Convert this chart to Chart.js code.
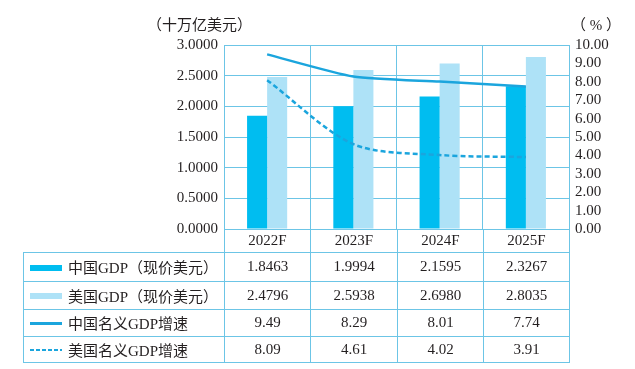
<!DOCTYPE html>
<html>
<head>
<meta charset="utf-8">
<script src="https://cdn.jsdelivr.net/npm/chart.js@4/dist/chart.umd.min.js"></script>
<style>
  body { margin: 0; background: #fff; }
  #wrap { position: relative; width: 635px; height: 369px; font-family: "Liberation Serif", "Noto Sans CJK SC", serif; color: #231f20; }
  #gdpChart { position: absolute; left: 0; top: 0; }
  .unit { position: absolute; font-size: 15px; top: 13px; }
  #dataTable { position: absolute; left: 23px; top: 229px; border-collapse: collapse; table-layout: fixed; width: 546px; font-size: 15px; }
  #dataTable td { border: 1px solid #6cc5e6; text-align: center; padding: 0; white-space: nowrap; }
  #dataTable td.label { text-align: left; padding-left: 6px; }
  #dataTable tr.head td.blank { border: none; border-right: 1px solid #6cc5e6; }
  #dataTable tr.head td { border-top: none; }
  .sw { display: inline-block; width: 32px; vertical-align: middle; margin-right: 6px; position: relative; top: -2px; }
</style>
</head>
<body>
<div id="wrap">
  <canvas id="gdpChart" width="635" height="369"></canvas>
  <div class="unit" style="left:147px;">（十万亿美元）</div>
  <div class="unit" style="left:571px;">（ % ）</div>
  <table id="dataTable"></table>
</div>
<script>
'use strict';

// chart data
var years = ['2022F', '2023F', '2024F', '2025F'];
var chinaGdp = [1.8463, 1.9994, 2.1595, 2.3267];
var usGdp = [2.4796, 2.5938, 2.6980, 2.8035];
var chinaGrowth = [9.49, 8.29, 8.01, 7.74];
var usGrowth = [8.09, 4.61, 4.02, 3.91];

var seriesNames = ['中国GDP（现价美元）', '美国GDP（现价美元）', '中国名义GDP增速', '美国名义GDP增速'];

var darkBlue = '#00bdf0';
var lightBlue = '#aee2f7';
var lineBlue = '#1ba5dd';
var gridBlue = '#6cc5e6';
var textColor = '#231f20';

// build the table under the chart
function buildTable() {
    var table = document.getElementById('dataTable');
    var widths = [201, 86, 87, 86, 86];
    var colgroup = document.createElement('colgroup');
    for (var c = 0; c < widths.length; c++) {
        var col = document.createElement('col');
        col.style.width = widths[c] + 'px';
        colgroup.appendChild(col);
    }
    table.appendChild(colgroup);

    var head = document.createElement('tr');
    head.className = 'head';
    head.style.height = '23px';
    var blank = document.createElement('td');
    blank.className = 'blank';
    head.appendChild(blank);
    for (var i = 0; i < years.length; i++) {
        var th = document.createElement('td');
        th.textContent = years[i];
        head.appendChild(th);
    }
    table.appendChild(head);

    var rows = [
        { data: chinaGdp, digits: 4, swatch: 'height:6px;background:' + darkBlue, h: 29 },
        { data: usGdp, digits: 4, swatch: 'height:6px;background:' + lightBlue, h: 28 },
        { data: chinaGrowth, digits: 2, swatch: 'height:2.5px;background:' + lineBlue, h: 27 },
        { data: usGrowth, digits: 2, swatch: 'height:2.5px;background:repeating-linear-gradient(90deg,' + lineBlue + ' 0 4px,transparent 4px 6px)', h: 26 }
    ];
    for (var r = 0; r < rows.length; r++) {
        var tr = document.createElement('tr');
        tr.style.height = rows[r].h + 'px';
        var label = document.createElement('td');
        label.className = 'label';
        var sw = document.createElement('span');
        sw.className = 'sw';
        sw.style.cssText = rows[r].swatch;
        label.appendChild(sw);
        label.appendChild(document.createTextNode(seriesNames[r]));
        tr.appendChild(label);
        for (var j = 0; j < rows[r].data.length; j++) {
            var td = document.createElement('td');
            td.textContent = rows[r].data[j].toFixed(rows[r].digits);
            tr.appendChild(td);
        }
        table.appendChild(tr);
    }
}

function makeAChart() {
    var ctx = document.getElementById('gdpChart').getContext('2d');
    var tickFont = { family: '"Liberation Serif", serif', size: 15 };
    new Chart(ctx, {
        type: 'bar',
        data: {
            labels: years,
            datasets: [
                {
                    type: 'line',
                    label: seriesNames[2],
                    data: chinaGrowth,
                    yAxisID: 'y1',
                    borderColor: lineBlue,
                    borderWidth: 2.5,
                    pointRadius: 0,
                    tension: 0.2,
                    order: 0
                },
                {
                    type: 'line',
                    label: seriesNames[3],
                    data: usGrowth,
                    yAxisID: 'y1',
                    borderColor: lineBlue,
                    borderWidth: 2.5,
                    borderDash: [5, 3],
                    pointRadius: 0,
                    tension: 0.3,
                    order: 0
                },
                {
                    label: seriesNames[0],
                    data: chinaGdp,
                    yAxisID: 'y',
                    backgroundColor: darkBlue,
                    categoryPercentage: 0.465,
                    barPercentage: 1,
                    order: 1
                },
                {
                    label: seriesNames[1],
                    data: usGdp,
                    yAxisID: 'y',
                    backgroundColor: lightBlue,
                    categoryPercentage: 0.465,
                    barPercentage: 1,
                    order: 1
                }
            ]
        },
        options: {
            responsive: false,
            animation: false,
            layout: { padding: { top: 45, left: 0, right: 0, bottom: 0 } },
            plugins: {
                legend: { display: false },
                tooltip: { enabled: false }
            },
            scales: {
                x: {
                    ticks: { display: false },
                    grid: { color: gridBlue, lineWidth: 1, drawTicks: false, offset: true },
                    border: { color: gridBlue },
                    afterFit: function (s) { s.height = 140; }
                },
                y: {
                    position: 'left',
                    min: 0,
                    max: 3,
                    ticks: {
                        stepSize: 0.5,
                        autoSkip: false,
                        color: textColor,
                        font: tickFont,
                        padding: 6,
                        callback: function (v) { return v.toFixed(4); }
                    },
                    grid: { color: gridBlue, lineWidth: 1, drawTicks: false },
                    border: { color: gridBlue },
                    afterFit: function (s) { s.width = 224; }
                },
                y1: {
                    position: 'right',
                    min: 0,
                    max: 10,
                    ticks: {
                        stepSize: 1,
                        autoSkip: false,
                        color: textColor,
                        font: tickFont,
                        padding: 6,
                        callback: function (v) { return v.toFixed(2); }
                    },
                    grid: { display: false, drawTicks: false },
                    border: { display: true, color: gridBlue },
                    afterFit: function (s) { s.width = 66; }
                }
            }
        }
    });
}

buildTable();
makeAChart();
</script>
</body>
</html>
